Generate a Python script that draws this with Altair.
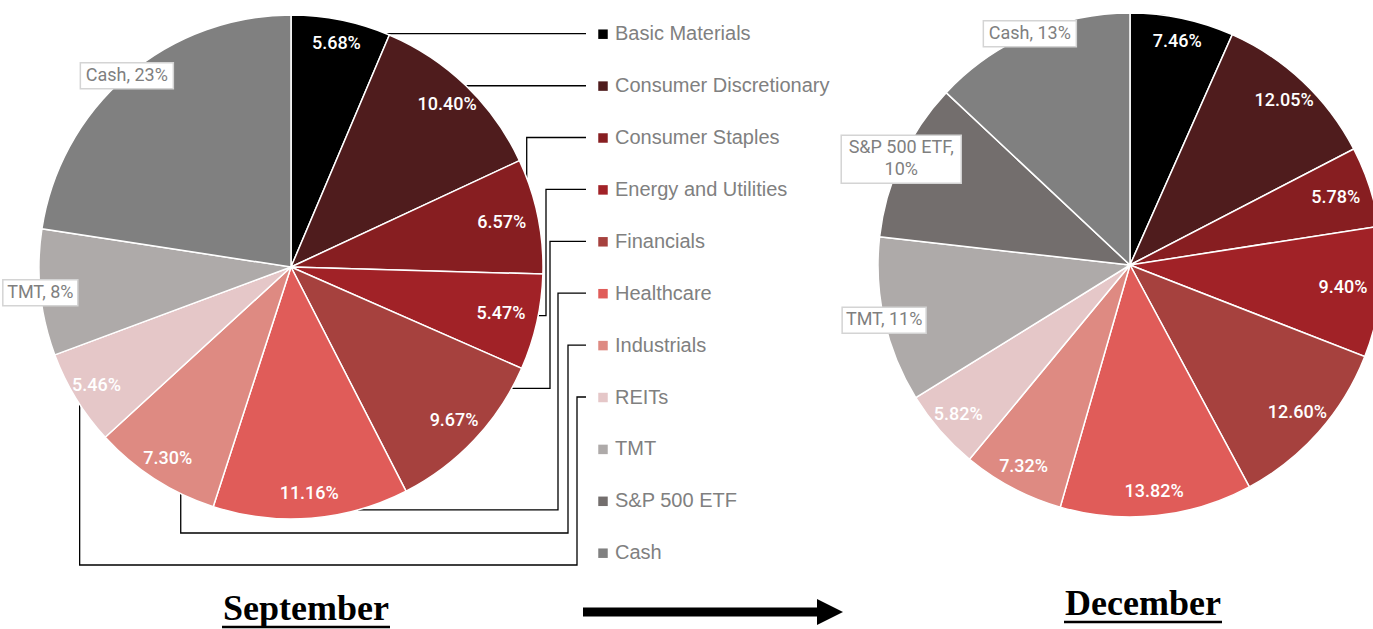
import math
import altair as alt
import pandas as pd

W, H = 1373, 629

# ---------------- data ----------------
sectors = ["Basic Materials", "Consumer Discretionary", "Consumer Staples",
           "Energy and Utilities", "Financials", "Healthcare", "Industrials",
           "REITs", "TMT", "S&P 500 ETF", "Cash"]
colors = ["#000000", "#4f1c1d", "#871e21", "#a12227", "#a6413e", "#e05c59",
          "#de8a82", "#e5c7c8", "#aeaaa9", "#736e6d", "#808080"]

sep_values = [5.68, 10.40, 6.57, 5.47, 9.67, 11.16, 7.30, 5.46, 7.2, 0.0, 20.1]
sep_labels = ["5.68%", "10.40%", "6.57%", "5.47%", "9.67%", "11.16%", "7.30%",
              "5.46%", "TMT, 8%", "", "Cash, 23%"]

dec_values = [7.46, 12.05, 5.78, 9.40, 12.60, 13.82, 7.32, 5.82, 11.9, 11.45, 14.6]
dec_labels = ["7.46%", "12.05%", "5.78%", "9.40%", "12.60%", "13.82%", "7.32%",
              "5.82%", "TMT, 11%", "S&P 500 ETF,\n10%", "Cash, 13%"]

boxed_sectors = ["TMT", "S&P 500 ETF", "Cash"]
titles = ["September", "December"]

# ---------------- layout ----------------
R = 252
SEP_C = (291, 267)
DEC_C = (1130, 265)
LEG_X, LEG_Y0, LEG_STEP = 586, 32.7, 51.9
LEG_FS = 20
# connector routing for the September pie: (fraction inside slice, channel x, bottom y)
routes = {
    "Basic Materials": (0.97, None, None),
    "Consumer Discretionary": (0.5, None, None),
    "Consumer Staples": (0.16, "self", None),
    "Energy and Utilities": (0.43, 546, None),
    "Financials": (0.13, 550, None),
    "Healthcare": (0.26, 558, None),
    "Industrials": (0.27, 568, 533),
    "REITs": (0.43, 577, 565),
}

xs = alt.Scale(domain=[0, W], range=[0, W], nice=False, zero=False)
ys = alt.Scale(domain=[0, H], range=[0, H], nice=False, zero=False)


def pie_tables(values, labels, center):
    cx, cy = center
    total = sum(values)
    arcs, pct, box, btxt = [], [], [], []
    cum = 0.0
    geo = {}
    for i, (s, v, lab) in enumerate(zip(sectors, values, labels)):
        a0 = cum / total * 360
        cum += v
        a1 = cum / total * 360
        geo[s] = (a0, a1)
        if v <= 0:
            continue
        arcs.append({"sector": s, "value": v, "idx": i})
        mid = math.radians((a0 + a1) / 2)
        sn, cs = math.sin(mid), math.cos(mid)
        if s in boxed_sectors:
            lines = lab.split("\n")
            bw = 9 * max(len(t) for t in lines) + 12
            bh = 22 * len(lines) + 4
            bx, by = cx + R * sn, cy - R * cs
            box.append({"x0": bx - bw / 2, "x1": bx + bw / 2,
                        "y0": by - bh / 2, "y1": by + bh / 2})
            n = len(lines)
            for j, t in enumerate(lines):
                btxt.append({"text": t, "bx": bx, "by": by + (j - (n - 1) / 2) * 22})
        else:
            rr = 228 - 14 * max(0.0, sn) ** 4
            pct.append({"text": lab, "lx": cx + rr * sn, "ly": cy - rr * cs})
    return (pd.DataFrame(arcs), pd.DataFrame(pct), pd.DataFrame(box),
            pd.DataFrame(btxt), geo)


legend = alt.Legend(
    orient="none", legendX=593, legendY=LEG_Y0 - LEG_FS / 2 + 1.5, title=None,
    symbolType="square", symbolSize=90, symbolStrokeWidth=0,
    labelFont="Liberation Sans", labelFontSize=LEG_FS, labelColor="#808080",
    labelOffset=2, rowPadding=LEG_STEP - LEG_FS, padding=0, labelLimit=400,
)
color_enc = alt.Color("sector:N", scale=alt.Scale(domain=sectors, range=colors),
                      legend=legend)

layers = []
geos = {}
for name, vals, labs, c in [("sep", sep_values, sep_labels, SEP_C),
                            ("dec", dec_values, dec_labels, DEC_C)]:
    a_df, p_df, b_df, t_df, geo = pie_tables(vals, labs, c)
    geos[name] = geo
    layers.append(
        alt.Chart(a_df).mark_arc(radius=R, stroke="white", strokeWidth=1.5).encode(
            theta=alt.Theta("value:Q", stack=True),
            order=alt.Order("idx:Q"),
            color=color_enc,
            x=alt.value(c[0]), y=alt.value(c[1]),
        )
    )
    layers.append(
        alt.Chart(p_df).mark_text(font="Roboto", fontSize=18, fontWeight=500,
                                  color="white", baseline="middle", align="center").encode(
            x=alt.X("lx:Q", scale=xs, axis=None),
            y=alt.Y("ly:Q", scale=ys, axis=None),
            text="text:N",
        )
    )
    layers.append(
        alt.Chart(b_df).mark_rect(fill="white", stroke="#d4d4d4", strokeWidth=1.5).encode(
            x=alt.X("x0:Q", scale=xs, axis=None), x2="x1:Q",
            y=alt.Y("y0:Q", scale=ys, axis=None), y2="y1:Q",
        )
    )
    layers.append(
        alt.Chart(t_df).mark_text(font="Roboto", fontSize=18, color="#7f7f7f",
                                  baseline="middle", align="center").encode(
            x=alt.X("bx:Q", scale=xs, axis=None),
            y=alt.Y("by:Q", scale=ys, axis=None),
            text="text:N",
        )
    )

# connectors (September pie -> legend)
rows = []
cx, cy = SEP_C
for i, s in enumerate(sectors):
    if s not in routes:
        continue
    f, chx, bot = routes[s]
    a0, a1 = geos["sep"][s]
    a = math.radians(a0 + f * (a1 - a0))
    ax, ay = cx + R * math.sin(a), cy - R * math.cos(a)
    ly = LEG_Y0 + LEG_STEP * i + 1
    if chx is None:
        yy = ly if i == 0 else ay
        pts = [(ax, yy), (LEG_X, yy)]
    elif chx == "self":
        pts = [(ax, ay), (ax, ly), (LEG_X, ly)]
    elif bot is None:
        pts = [(ax, ay), (chx, ay), (chx, ly), (LEG_X, ly)]
    else:
        pts = [(ax, ay), (ax, bot), (chx, bot), (chx, ly), (LEG_X, ly)]
    for k, (px, py) in enumerate(pts):
        rows.append({"seg": s, "k": k, "px": px, "py": py})
conn = alt.Chart(pd.DataFrame(rows)).mark_line(color="black", strokeWidth=1.3).encode(
    x=alt.X("px:Q", scale=xs, axis=None),
    y=alt.Y("py:Q", scale=ys, axis=None),
    detail="seg:N", order="k:Q",
)
layers.insert(0, conn)

one = pd.DataFrame({"a": [0]})
# titles with underline
for t, tx, ty, uw, uy in [(titles[0], 306, 609, 168, 627), (titles[1], 1143, 604, 158, 622)]:
    layers.append(alt.Chart(one).mark_text(font="Liberation Serif", fontSize=36,
                                           fontWeight="bold", color="black",
                                           baseline="middle", align="center").encode(
        x=alt.value(tx), y=alt.value(ty), text=alt.value(t)))
    layers.append(alt.Chart(one).mark_rule(color="black", strokeWidth=2.5).encode(
        x=alt.value(tx - uw / 2), x2=alt.value(tx + uw / 2), y=alt.value(uy)))

# arrow
layers.append(alt.Chart(one).mark_rule(color="black", strokeWidth=9).encode(
    x=alt.value(583), x2=alt.value(822), y=alt.value(612)))
layers.append(alt.Chart(one).mark_point(shape="M -1 -1 L 1 0 L -1 1 Z", filled=True,
                                        size=676, color="black", opacity=1).encode(
    x=alt.value(830), y=alt.value(612)))

chart = alt.layer(*layers).properties(
    width=W, height=H, padding=0, autosize=alt.AutoSizeParams(type="none"),
    background="white",
).resolve_scale(theta="independent").configure_view(stroke=None)

chart.save("out.html", embed_options={"renderer": "svg", "actions": False})
